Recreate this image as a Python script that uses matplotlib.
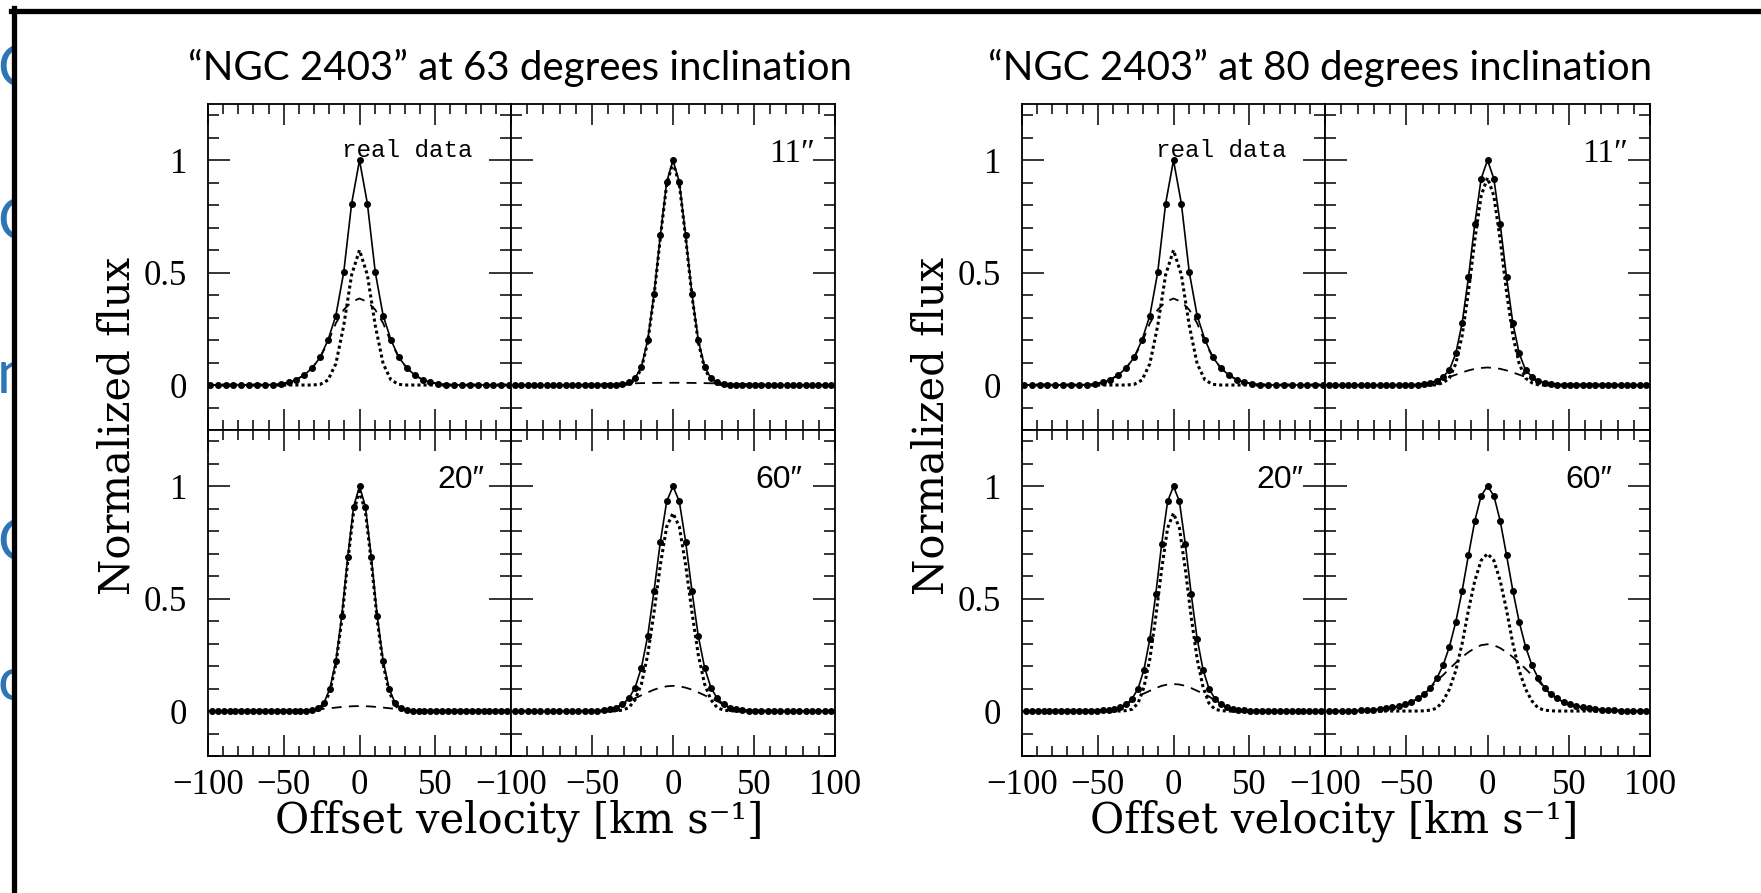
import numpy as np
import matplotlib
matplotlib.use("Agg")
import matplotlib.pyplot as plt
from matplotlib.patches import Rectangle
from matplotlib.lines import Line2D
from matplotlib.ticker import MultipleLocator, FixedLocator, FixedFormatter

W, H = 1761, 893

# ---------------- data ----------------
DATA_DV = 5.2    # km/s, channel spacing of the observed cube
MODEL_DV = 3.9   # km/s, channel spacing of the model cubes
v_data = DATA_DV * np.arange(-19, 20)
v_model = MODEL_DV * np.arange(-25, 26)

# real data (same in both figures)
A_total = [0]*8 + [0.002, 0.005, 0.012, 0.024, 0.045, 0.076, 0.123, 0.200, 0.309, 0.502, 0.807,
                   1.0,
                   0.807, 0.502, 0.309, 0.200, 0.123, 0.076, 0.045, 0.024, 0.012, 0.005, 0.002] + [0]*8
A_narrow = [0]*14 + [0.003, 0.022, 0.095, 0.265, 0.49, 0.60, 0.49, 0.265, 0.095, 0.022, 0.003] + [0]*14
A_broad = [0]*8 + [0.002, 0.005, 0.012, 0.024, 0.045, 0.076, 0.123, 0.19, 0.275, 0.335, 0.37,
                   0.385,
                   0.37, 0.335, 0.275, 0.19, 0.123, 0.076, 0.045, 0.024, 0.012, 0.005, 0.002] + [0]*8

# 63 deg, 11"
B63_total = [0]*16 + [0.001, 0.004, 0.012, 0.03, 0.082, 0.20, 0.406, 0.666, 0.903, 1.0,
                      0.903, 0.666, 0.406, 0.20, 0.082, 0.03, 0.012, 0.004, 0.001] + [0]*16
B63_narrow = [0]*17 + [0.001, 0.005, 0.022, 0.074, 0.191, 0.397, 0.656, 0.893, 0.99,
                       0.893, 0.656, 0.397, 0.191, 0.074, 0.022, 0.005, 0.001] + [0]*17
B63_broad = [0]*5 + [0.0002, 0.0003, 0.0005, 0.0007, 0.001, 0.0014, 0.0019, 0.0025, 0.0032, 0.0039,
                     0.0047, 0.0055, 0.0063, 0.0071, 0.0078, 0.0085, 0.009, 0.0094, 0.0097, 0.010,
                     0.010,
                     0.010, 0.0097, 0.0094, 0.009, 0.0085, 0.0078, 0.0071, 0.0063, 0.0055, 0.0047,
                     0.0039, 0.0032, 0.0025, 0.0019, 0.0014, 0.001, 0.0007, 0.0005, 0.0003, 0.0002] + [0]*5

# 63 deg, 20"
C63_total = [0]*16 + [0.001, 0.003, 0.012, 0.037, 0.10, 0.223, 0.423, 0.683, 0.909, 1.0,
                      0.909, 0.683, 0.423, 0.223, 0.10, 0.037, 0.012, 0.003, 0.001] + [0]*16
C63_narrow = [0]*17 + [0.001, 0.005, 0.027, 0.088, 0.208, 0.405, 0.663, 0.887, 0.978,
                       0.887, 0.663, 0.405, 0.208, 0.088, 0.027, 0.005, 0.001] + [0]*17
C63_broad = [0]*12 + [0.0004, 0.0008, 0.0014, 0.0023, 0.0035, 0.0052, 0.0073, 0.0098, 0.0125, 0.0153,
                      0.018, 0.0201, 0.0215, 0.022, 0.0215, 0.0201, 0.018, 0.0153, 0.0125, 0.0098,
                      0.0073, 0.0052, 0.0035, 0.0023, 0.0014, 0.0008, 0.0004] + [0]*12

# 63 deg, 60"
D63_total = [0]*12 + [0.0005, 0.0015, 0.004, 0.007, 0.015, 0.03, 0.056, 0.104, 0.193, 0.334, 0.535,
                      0.753, 0.932, 1.0, 0.932, 0.753, 0.535, 0.334, 0.193, 0.104, 0.056, 0.03,
                      0.015, 0.007, 0.004, 0.0015, 0.0005] + [0]*12
D63_narrow = [0]*16 + [0.001, 0.004, 0.015, 0.05, 0.12, 0.25, 0.44, 0.65, 0.82, 0.88,
                       0.82, 0.65, 0.44, 0.25, 0.12, 0.05, 0.015, 0.004, 0.001] + [0]*16
D63_broad = [0]*12 + [0.001, 0.002, 0.004, 0.008, 0.015, 0.028, 0.044, 0.057, 0.070, 0.083, 0.095,
                      0.104, 0.110, 0.112, 0.110, 0.104, 0.095, 0.083, 0.070, 0.057, 0.044, 0.028,
                      0.015, 0.008, 0.004, 0.002, 0.001] + [0]*12

# 80 deg, 11"
B80_total = [0]*14 + [0.001, 0.004, 0.01, 0.019, 0.037, 0.067, 0.141, 0.276, 0.48, 0.718, 0.918,
                      1.0, 0.918, 0.718, 0.48, 0.276, 0.141, 0.067, 0.037, 0.019, 0.01, 0.004,
                      0.001] + [0]*14
B80_narrow = [0]*17 + [0.001, 0.01, 0.031, 0.095, 0.22, 0.415, 0.646, 0.842, 0.922,
                       0.842, 0.646, 0.415, 0.22, 0.095, 0.031, 0.01, 0.001] + [0]*17
B80_broad = [0]*14 + [0.001, 0.004, 0.010, 0.018, 0.027, 0.036, 0.046, 0.056, 0.065, 0.072, 0.076,
                      0.078, 0.076, 0.072, 0.065, 0.056, 0.046, 0.036, 0.027, 0.018, 0.010, 0.004,
                      0.001] + [0]*14

# 80 deg, 20"
C80_total = [0]*12 + [0.001, 0.003, 0.006, 0.01, 0.018, 0.03, 0.055, 0.10, 0.184, 0.322, 0.52,
                      0.743, 0.932, 1.0, 0.932, 0.743, 0.52, 0.322, 0.184, 0.10, 0.055, 0.03,
                      0.018, 0.01, 0.006, 0.003, 0.001] + [0]*12
C80_narrow = [0]*17 + [0.002, 0.008, 0.035, 0.106, 0.232, 0.418, 0.631, 0.814, 0.88,
                       0.814, 0.631, 0.418, 0.232, 0.106, 0.035, 0.008, 0.002] + [0]*17
C80_broad = [0]*12 + [0.001, 0.003, 0.006, 0.01, 0.018, 0.028, 0.047, 0.065, 0.078, 0.09, 0.102,
                      0.112, 0.118, 0.12, 0.118, 0.112, 0.102, 0.09, 0.078, 0.065, 0.047, 0.028,
                      0.018, 0.01, 0.006, 0.003, 0.001] + [0]*12

# 80 deg, 60"
D80_total = [0]*3 + [0.001, 0.002, 0.003, 0.004, 0.006, 0.009, 0.012, 0.016, 0.022, 0.03, 0.04,
                     0.056, 0.074, 0.104, 0.146, 0.204, 0.287, 0.397, 0.535, 0.694, 0.846, 0.958,
                     1.0,
                     0.958, 0.846, 0.694, 0.535, 0.397, 0.287, 0.204, 0.146, 0.104, 0.074, 0.056,
                     0.04, 0.03, 0.022, 0.016, 0.012, 0.009, 0.006, 0.004, 0.003, 0.002, 0.001] + [0]*3
D80_narrow = [0]*15 + [0.001, 0.004, 0.013, 0.045, 0.098, 0.18, 0.30, 0.45, 0.58, 0.67, 0.70,
                       0.67, 0.58, 0.45, 0.30, 0.18, 0.098, 0.045, 0.013, 0.004, 0.001] + [0]*15
D80_broad = [0]*3 + [0.001, 0.002, 0.003, 0.004, 0.006, 0.009, 0.012, 0.016, 0.022, 0.03, 0.04,
                     0.055, 0.074, 0.102, 0.135, 0.16, 0.188, 0.215, 0.24, 0.262, 0.28, 0.293,
                     0.297,
                     0.293, 0.28, 0.262, 0.24, 0.215, 0.188, 0.16, 0.135, 0.102, 0.074, 0.055,
                     0.04, 0.03, 0.022, 0.016, 0.012, 0.009, 0.006, 0.004, 0.003, 0.002, 0.001] + [0]*3

titles = ['\u201cNGC 2403\u201d at 63 degrees inclination',
          '\u201cNGC 2403\u201d at 80 degrees inclination']
panel_labels = ['real data', '11\u2033', '20\u2033', '60\u2033']
x_tick_values = [-100, -50, 0, 50, 100]
x_tick_labels_left = ['\u2212100', '\u221250', '0', '50', '']
x_tick_labels_right = ['\u2212100', '\u221250', '0', '50', '100']
y_tick_values = [0, 0.5, 1]
y_tick_labels = ['0', '0.5', '1']
xlabel = 'Offset velocity [km s\u207b\u00b9]'
ylabel = 'Normalized flux'

# ---------------- figure ----------------
fig = plt.figure(figsize=(W / 100, H / 100), dpi=100)
fig.patch.set_facecolor('white')


def px_axes(x0, x1, ytop, ybot):
    return fig.add_axes([x0 / W, 1 - ybot / H, (x1 - x0) / W, (ybot - ytop) / H])


TICKFONT = ['Liberation Serif', 'DejaVu Serif']


def style(ax, bottom_labels, left_labels, xlabels):
    ax.set_xlim(-100, 100)
    ax.set_ylim(-0.2, 1.25)
    ax.xaxis.set_major_locator(FixedLocator(x_tick_values))
    ax.xaxis.set_minor_locator(MultipleLocator(10))
    ax.yaxis.set_major_locator(FixedLocator(y_tick_values))
    ax.yaxis.set_minor_locator(MultipleLocator(0.1))
    ax.xaxis.set_major_formatter(FixedFormatter(xlabels))
    ax.yaxis.set_major_formatter(FixedFormatter(y_tick_labels))
    ax.tick_params(which='both', direction='in', top=True, right=True, width=1.1, color='black')
    ax.tick_params(axis='x', which='major', length=15, pad=9)
    ax.tick_params(axis='x', which='minor', length=7)
    ax.tick_params(axis='y', which='major', length=16, pad=15)
    ax.tick_params(axis='y', which='minor', length=8)
    ax.tick_params(labelbottom=bottom_labels, labelleft=left_labels, labelsize=25)
    for lab in ax.get_xticklabels() + ax.get_yticklabels():
        lab.set_fontfamily(TICKFONT)
    for s in ax.spines.values():
        s.set_linewidth(1.3)


def draw(ax, vp, total, vm, narrow, broad):
    ax.plot(vm, broad, color='black', lw=1.3, ls=(0, (5.5, 4)))
    ax.plot(vm, narrow, color='black', lw=2.2, ls=(0, (1, 1)))
    ax.plot(vp, total, color='black', lw=1.2, marker='o', ms=4.0)


def label(ax, text, x, y, kind):
    if kind == 'mono':
        ax.text(x, y, text, ha='right', va='baseline', fontsize=17.5,
                family=['Liberation Mono', 'DejaVu Sans Mono'])
    elif kind == 'serif':
        ax.text(x, y, text, ha='right', va='baseline', fontsize=24,
                family=['Liberation Serif', 'DejaVu Serif'])
    else:
        ax.text(x, y, text, ha='right', va='baseline', fontsize=23,
                family=['Liberation Sans', 'DejaVu Sans'])


figs = [
    dict(cols=[(208, 511), (511, 835)], title=titles[0], tx=519.5,
         panels=[(v_data, A_total, v_data, A_narrow, A_broad, 74.6, 1.013, 'mono'),
                 (v_model, B63_total, v_model, B63_narrow, B63_broad, 87.7, 0.99, 'serif'),
                 (v_model, C63_total, v_model, C63_narrow, C63_broad, 82.5, 0.994, 'sans'),
                 (v_model, D63_total, v_model, D63_narrow, D63_broad, 79.6, 0.994, 'sans')]),
    dict(cols=[(1022, 1325), (1325, 1650)], title=titles[1], tx=1320,
         panels=[(v_data, A_total, v_data, A_narrow, A_broad, 74.9, 1.013, 'mono'),
                 (v_model, B80_total, v_model, B80_narrow, B80_broad, 86.5, 0.99, 'serif'),
                 (v_model, C80_total, v_model, C80_narrow, C80_broad, 85.5, 0.994, 'sans'),
                 (v_model, D80_total, v_model, D80_narrow, D80_broad, 76.6, 0.994, 'sans')]),
]
rows = [(104, 430), (430, 756)]

for f in figs:
    idx = 0
    for r, (yt, yb) in enumerate(rows):
        for c, (x0, x1) in enumerate(f['cols']):
            ax = px_axes(x0, x1, yt, yb)
            vp, tot, vm, nar, bro, lx, ly, kind = f['panels'][idx]
            draw(ax, vp, tot, vm, nar, bro)
            style(ax, bottom_labels=(r == 1), left_labels=(c == 0),
                  xlabels=x_tick_labels_left if c == 0 else x_tick_labels_right)
            label(ax, panel_labels[idx], lx, ly, kind)
            idx += 1
    x0 = f['cols'][0][0]
    x1 = f['cols'][1][1]
    fig.text(f['tx'] / W, 1 - 80 / H, f['title'], ha='center', va='baseline',
             fontsize=29, family=['Lato', 'DejaVu Sans'], color='black')
    fig.text(((x0 + x1) / 2 - 2) / W, 1 - 833 / H, xlabel, ha='center', va='baseline',
             fontsize=30, family='DejaVu Serif')
    fig.text((x0 - 90) / W, 1 - 426 / H, ylabel, ha='center', va='center', rotation=90,
             fontsize=30, family='DejaVu Serif')

# ---------------- slide decorations ----------------
blue = '#2E75B6'
for ch, yb in [('O', 87), ('O', 240), ('n', 393), ('O', 561), ('c', 700)]:
    fig.text(-3 / W, 1 - yb / H, ch, ha='left', va='baseline', fontsize=43,
             family=['Lato', 'DejaVu Sans'], color=blue, zorder=1)
fig.patches.append(Rectangle((12 / W, 0), 70 / W, 1, transform=fig.transFigure,
                             facecolor='white', edgecolor='none', zorder=2))
fig.lines.append(Line2D([13.5 / W, 13.5 / W], [0, 1 - 8 / H], transform=fig.transFigure,
                        color='black', lw=3.8, zorder=3))
fig.lines.append(Line2D([11 / W, 1], [1 - 10.5 / H, 1 - 10.5 / H], transform=fig.transFigure,
                        color='black', lw=3.8, zorder=3))

fig.savefig('out.png', dpi=100)
